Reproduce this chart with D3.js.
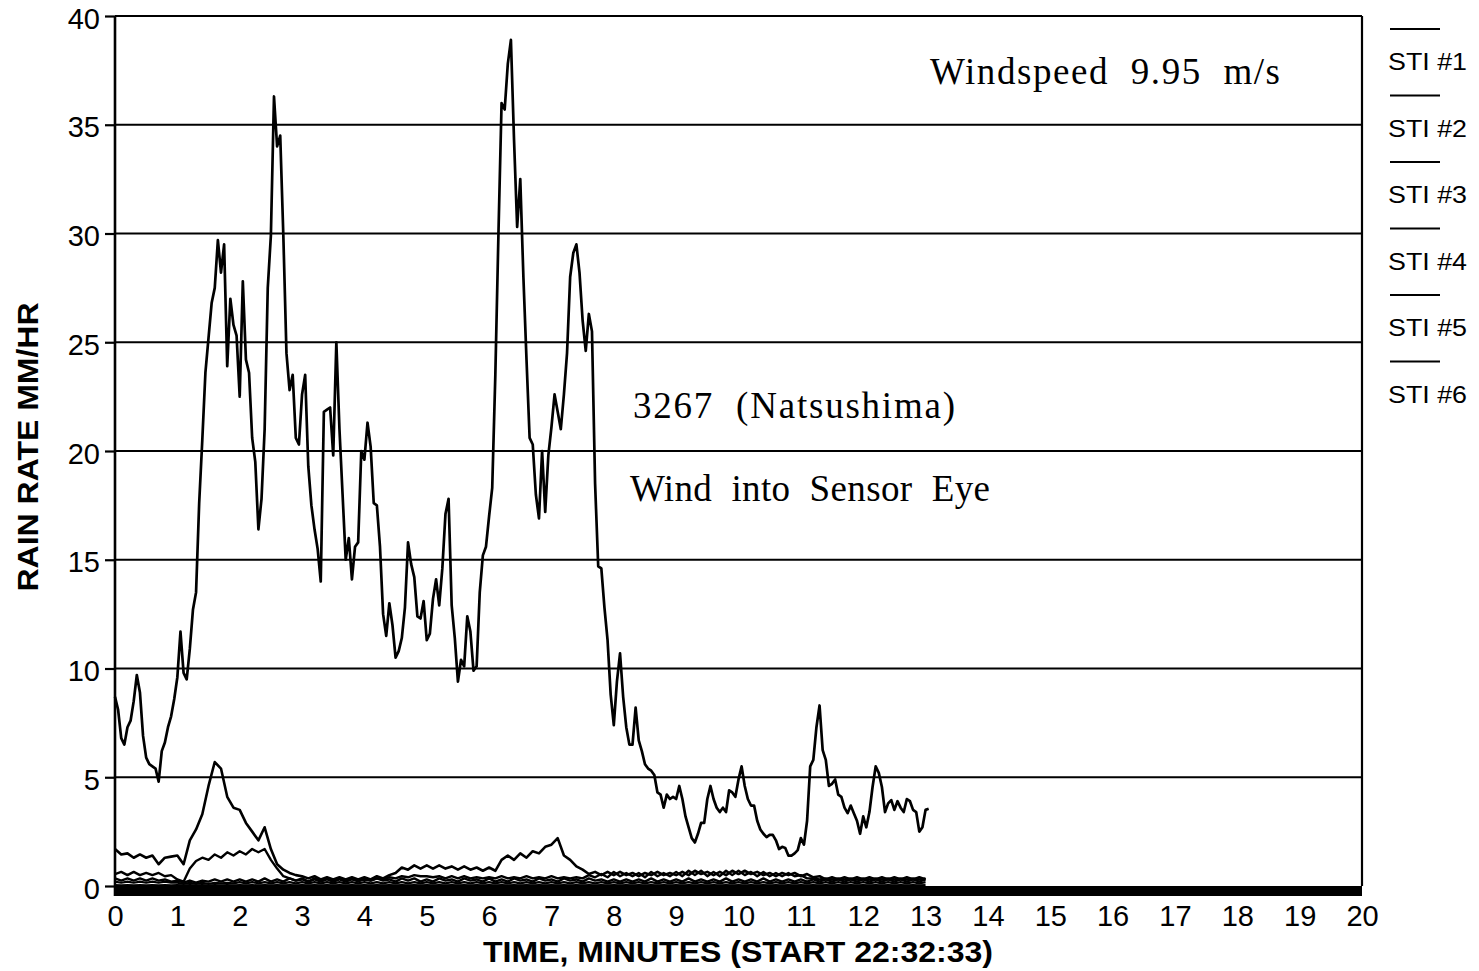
<!DOCTYPE html>
<html>
<head>
<meta charset="utf-8">
<script src="https://cdn.jsdelivr.net/npm/d3@7"></script>
<style>
  body { margin: 0; background: #fff; }
  svg { display: block; }
</style>
</head>
<body>
<svg id="chart" width="1479" height="971"></svg>
<script>
// ---- data ----
// main trace, one value every 0.05 min
var mainStep = 0.05;
var mainRate = [
  8.7,8.1,6.8,6.5,7.3,7.6,8.5,9.7,8.9,6.9,5.9,5.6,5.5,5.4,4.8,6.2,6.6,7.3,7.8,8.6,
  9.6,11.7,9.8,9.5,10.9,12.7,13.5,17.6,20.5,23.6,25.2,26.8,27.5,29.7,28.2,29.5,23.9,27.0,25.8,25.3,
  22.5,27.8,24.2,23.6,20.6,19.5,16.4,17.8,21.0,27.5,29.9,36.3,34.0,34.5,29.9,24.5,22.8,23.5,20.6,20.3,
  22.6,23.5,19.3,17.5,16.4,15.5,14.0,21.8,21.9,22.0,19.8,25.0,21.0,18.0,15.0,16.0,14.1,15.6,15.8,20.0,
  19.6,21.3,20.2,17.6,17.5,15.6,12.5,11.5,13.0,12.0,10.5,10.8,11.4,12.8,15.8,14.8,14.2,12.4,12.3,13.1,
  11.3,11.6,13.2,14.1,12.9,14.6,17.1,17.8,12.9,11.4,9.4,10.4,10.1,12.4,11.7,9.9,10.1,13.5,15.2,15.6,
  17.0,18.3,23.5,30.0,36.0,35.7,37.8,38.9,34.3,30.3,32.5,28.0,24.2,20.6,20.3,18.0,16.9,20.0,17.2,19.8,
  21.1,22.6,21.8,21.0,22.6,24.5,28.0,29.1,29.5,28.2,26.0,24.6,26.3,25.5,18.5,14.7,14.6,12.8,11.3,8.8,
  7.4,9.4,10.7,8.7,7.3,6.5,6.5,8.2,6.7,6.2,5.6,5.4,5.3,5.1,4.3,4.2,3.6,4.2,4.0,4.1,
  4.0,4.6,4.0,3.2,2.7,2.2,2.0,2.4,2.9,2.9,4.0,4.6,4.0,3.6,3.4,3.6,3.4,4.4,4.3,4.1,
  4.9,5.5,4.6,4.0,3.7,3.7,3.0,2.6,2.4,2.25,2.35,2.35,2.1,1.7,1.8,1.75,1.4,1.4,1.5,1.65,
  2.2,1.9,3.0,5.5,5.8,7.3,8.3,6.25,5.8,4.6,4.7,4.9,4.2,4.1,3.6,3.35,3.7,3.35,3.0,2.4,
  3.2,2.7,3.4,4.55,5.5,5.2,4.55,3.4,3.8,3.95,3.5,3.9,3.6,3.4,4.0,3.9,3.5,3.4,2.5,2.7,
  3.5,3.55
];

// the low traces, one value every 0.1 min
var lowStep = 0.1;
var sti2 = [
  1.7,1.45,1.5,1.3,1.45,1.3,1.4,1.0,1.3,1.35,
  1.4,1.0,2.1,2.6,3.3,4.6,5.7,5.4,4.1,3.6,
  3.5,2.9,2.5,2.1,2.7,1.7,1.0,0.75,0.6,0.5,
  0.45,0.35,0.45,0.3,0.4,0.3,0.4,0.3,0.4,0.3,
  0.4,0.3,0.45,0.35,0.5,0.6,0.85,0.75,0.95,0.8,
  0.95,0.8,0.95,0.8,0.9,0.75,0.9,0.75,0.85,0.7,
  0.85,0.7,1.2,1.4,1.2,1.5,1.3,1.6,1.5,1.8,
  1.9,2.2,1.4,1.2,0.9,0.75,0.55,0.65,0.5,0.65,
  0.5,0.65,0.5,0.6,0.45,0.6,0.5,0.65,0.5,0.6,
  0.5,0.65,0.5,0.7,0.55,0.65,0.5,0.65,0.5,0.7,
  0.55,0.7,0.55,0.65,0.5,0.6,0.45,0.6,0.5,0.6,
  0.45,0.55,0.4,0.45,0.3,0.4,0.3,0.4,0.3,0.4,
  0.3,0.4,0.3,0.4,0.3,0.4,0.3,0.4,0.3,0.4,
  0.3
];
var sti3 = [
  0.55,0.65,0.5,0.65,0.5,0.6,0.5,0.6,0.45,0.5,
  0.3,0.2,0.8,1.15,1.3,1.2,1.45,1.3,1.55,1.4,
  1.6,1.45,1.7,1.55,1.7,1.2,0.8,0.45,0.35,0.25,
  0.3,0.2,0.3,0.2,0.3,0.2,0.3,0.2,0.3,0.25,
  0.3,0.25,0.35,0.3,0.4,0.35,0.45,0.4,0.5,0.45,
  0.45,0.4,0.45,0.35,0.45,0.35,0.45,0.35,0.4,0.35,
  0.4,0.35,0.45,0.35,0.4,0.35,0.45,0.35,0.4,0.35,
  0.45,0.35,0.4,0.35,0.4,0.35,0.5,0.4,0.55,0.4,
  0.65,0.45,0.6,0.45,0.6,0.4,0.65,0.45,0.6,0.45,
  0.65,0.45,0.7,0.5,0.7,0.45,0.65,0.45,0.7,0.5,
  0.7,0.5,0.65,0.45,0.65,0.45,0.6,0.45,0.6,0.45,
  0.5,0.35,0.35,0.3,0.35,0.3,0.35,0.3,0.35,0.3,
  0.35,0.3,0.35,0.3,0.35,0.3,0.35,0.3,0.35,0.3,
  0.35
];
var sti4 = [
  0.35,0.25,0.35,0.25,0.35,0.25,0.35,0.25,0.3,0.2,
  0.25,0.15,0.25,0.15,0.25,0.2,0.3,0.2,0.3,0.2,
  0.3,0.2,0.3,0.2,0.35,0.2,0.3,0.2,0.35,0.25,
  0.35,0.2,0.35,0.25,0.35,0.2,0.35,0.25,0.35,0.2,
  0.35,0.25,0.35,0.25,0.3,0.2,0.35,0.25,0.35,0.2,
  0.3,0.2,0.35,0.25,0.3,0.2,0.35,0.25,0.3,0.2,
  0.35,0.2,0.3,0.2,0.35,0.25,0.3,0.2,0.35,0.25,
  0.3,0.2,0.35,0.25,0.3,0.2,0.35,0.25,0.3,0.2,
  0.3,0.2,0.3,0.2,0.3,0.2,0.35,0.2,0.3,0.2,
  0.3,0.2,0.35,0.2,0.3,0.2,0.3,0.2,0.35,0.2,
  0.3,0.2,0.3,0.2,0.35,0.2,0.3,0.2,0.3,0.2,
  0.3,0.2,0.3,0.2,0.3,0.2,0.3,0.2,0.3,0.2,
  0.3,0.2,0.3,0.2,0.3,0.2,0.3,0.2,0.3,0.2,
  0.3
];
var sti5 = [
  0.2,0.15,0.2,0.15,0.2,0.15,0.2,0.15,0.2,0.15,
  0.15,0.1,0.15,0.1,0.15,0.1,0.15,0.12,0.15,0.12,
  0.18,0.12,0.18,0.12,0.18,0.12,0.18,0.12,0.18,0.12,
  0.18,0.12,0.18,0.12,0.18,0.12,0.18,0.12,0.18,0.12,
  0.18,0.12,0.18,0.12,0.18,0.12,0.18,0.12,0.18,0.12,
  0.18,0.12,0.18,0.12,0.18,0.12,0.18,0.12,0.18,0.12,
  0.18,0.12,0.18,0.12,0.18,0.12,0.18,0.12,0.18,0.12,
  0.18,0.12,0.18,0.12,0.18,0.12,0.18,0.12,0.18,0.12,
  0.18,0.12,0.18,0.12,0.18,0.12,0.18,0.12,0.18,0.12,
  0.18,0.12,0.18,0.12,0.18,0.12,0.18,0.12,0.18,0.12,
  0.18,0.12,0.18,0.12,0.18,0.12,0.18,0.12,0.18,0.12,
  0.18,0.12,0.18,0.12,0.18,0.12,0.18,0.12,0.18,0.12,
  0.18,0.12,0.18,0.12,0.18,0.12,0.18,0.12,0.18,0.12,
  0.18
];
var sti6 = [
  0.05,0.03,0.05,0.03,0.05,0.03,0.05,0.03,0.05,0.03,
  0.05,0.03,0.05,0.03,0.05,0.03,0.05,0.03,0.05,0.03,
  0.05,0.03,0.05,0.03,0.05,0.03,0.05,0.03,0.05,0.03,
  0.05,0.03,0.05,0.03,0.05,0.03,0.05,0.03,0.05,0.03,
  0.05,0.03,0.05,0.03,0.05,0.03,0.05,0.03,0.05,0.03,
  0.05,0.03,0.05,0.03,0.05,0.03,0.05,0.03,0.05,0.03,
  0.05,0.03,0.05,0.03,0.05,0.03,0.05,0.03,0.05,0.03,
  0.05,0.03,0.05,0.03,0.05,0.03,0.05,0.03,0.05,0.03,
  0.05,0.03,0.05,0.03,0.05,0.03,0.05,0.03,0.05,0.03,
  0.05,0.03,0.05,0.03,0.05,0.03,0.05,0.03,0.05,0.03,
  0.05,0.03,0.05,0.03,0.05,0.03,0.05,0.03,0.05,0.03,
  0.05,0.03,0.05,0.03,0.05,0.03,0.05,0.03,0.05,0.03,
  0.05,0.03,0.05,0.03,0.05,0.03,0.05,0.03,0.05,0.03,
  0.05
];

var legendNames = ["STI #1", "STI #2", "STI #3", "STI #4", "STI #5", "STI #6"];
var xTickValues = [0,1,2,3,4,5,6,7,8,9,10,11,12,13,14,15,16,17,18,19,20];
var yTickValues = [0,5,10,15,20,25,30,35,40];
var notes = ["Windspeed  9.95  m/s", "3267  (Natsushima)", "Wind  into  Sensor  Eye"];
var xTitle = "TIME, MINUTES (START 22:32:33)";
var yTitle = "RAIN RATE MM/HR";

// ---- drawing ----
var sans = "'Liberation Sans', Arial, Helvetica, sans-serif";
var serif = "'Liberation Serif', 'Times New Roman', serif";

var svg = d3.select("#chart");
var plotLeft = 115, plotRight = 1362, plotTop = 16, plotBottom = 886;

var x = d3.scaleLinear().domain([0, 20]).range([plotLeft, plotRight]);
var y = d3.scaleLinear().domain([0, 40]).range([plotBottom, plotTop]);

// horizontal grid lines
svg.append("g")
  .selectAll("line")
  .data(yTickValues.filter(function (d) { return d > 0; }))
  .join("line")
  .attr("x1", plotLeft)
  .attr("x2", plotRight)
  .attr("y1", function (d) { return y(d); })
  .attr("y2", function (d) { return y(d); })
  .attr("stroke", "#000")
  .attr("stroke-width", 2.2);

// right frame
svg.append("line")
  .attr("x1", plotRight).attr("x2", plotRight)
  .attr("y1", plotTop).attr("y2", y(0))
  .attr("stroke", "#000").attr("stroke-width", 2.2);

// thick bar along the time axis
svg.append("rect")
  .attr("x", plotLeft)
  .attr("y", y(0))
  .attr("width", plotRight - plotLeft)
  .attr("height", 10)
  .attr("fill", "#000");

// y axis
var yAxis = svg.append("g")
  .attr("transform", "translate(" + plotLeft + ",0)")
  .call(d3.axisLeft(y).tickValues(yTickValues).tickSize(10).tickPadding(5));
yAxis.select(".domain").attr("stroke-width", 2.6).attr("d", "M0," + plotTop + "V" + (y(0) + 10));
yAxis.selectAll(".tick line").attr("stroke-width", 2.2);
yAxis.selectAll("text")
  .attr("dy", "0.42em")
  .style("font-family", sans)
  .style("font-size", "29px")
  .attr("fill", "#000");

// x axis labels
var xAxis = svg.append("g")
  .attr("transform", "translate(0," + (y(0) + 10) + ")")
  .call(d3.axisBottom(x).tickValues(xTickValues).tickSize(0).tickPadding(9).tickFormat(d3.format("d")));
xAxis.select(".domain").remove();
xAxis.selectAll("text")
  .style("font-family", sans)
  .style("font-size", "29px")
  .attr("fill", "#000");

// axis titles
svg.append("text")
  .attr("x", 738)
  .attr("y", 962)
  .attr("text-anchor", "middle")
  .attr("textLength", 510)
  .attr("lengthAdjust", "spacingAndGlyphs")
  .style("font-family", sans)
  .style("font-weight", "bold")
  .style("font-size", "29px")
  .text(xTitle);

svg.append("text")
  .attr("transform", "translate(38,447) rotate(-90)")
  .attr("text-anchor", "middle")
  .attr("textLength", 289)
  .attr("lengthAdjust", "spacingAndGlyphs")
  .style("font-family", sans)
  .style("font-weight", "bold")
  .style("font-size", "29px")
  .text(yTitle);

// traces
function trace(values, step, width) {
  var line = d3.line()
    .x(function (d, i) { return x(i * step); })
    .y(function (d) { return y(d); });
  svg.append("path")
    .datum(values)
    .attr("d", line)
    .attr("fill", "none")
    .attr("stroke", "#000")
    .attr("stroke-width", width)
    .attr("stroke-linejoin", "round");
}
trace(sti6, lowStep, 2);
trace(sti5, lowStep, 2.2);
trace(sti4, lowStep, 2.4);
trace(sti3, lowStep, 2.4);
trace(sti2, lowStep, 2.6);
trace(mainRate, mainStep, 2.7);

// notes inside the plot
var notePos = [[930, 84], [633, 418], [630, 501]];
var noteWidth = [350, 322, 360];
svg.append("g")
  .selectAll("text")
  .data(notes)
  .join("text")
  .attr("x", function (d, i) { return notePos[i][0]; })
  .attr("y", function (d, i) { return notePos[i][1]; })
  .attr("textLength", function (d, i) { return noteWidth[i]; })
  .attr("lengthAdjust", "spacing")
  .attr("xml:space", "preserve")
  .style("white-space", "pre")
  .style("font-family", serif)
  .style("font-size", "37px")
  .text(function (d) { return d; });

// legend on the right
var legendItemGap = 66.5;
var legend = svg.append("g").attr("transform", "translate(1388,29)");
legend.selectAll("line")
  .data(legendNames)
  .join("line")
  .attr("x1", 2)
  .attr("x2", 52)
  .attr("y1", function (d, i) { return i * legendItemGap; })
  .attr("y2", function (d, i) { return i * legendItemGap; })
  .attr("stroke", "#000")
  .attr("stroke-width", 1.8);
legend.selectAll("text")
  .data(legendNames)
  .join("text")
  .attr("x", 0)
  .attr("y", function (d, i) { return i * legendItemGap + 41; })
  .attr("textLength", 79)
  .attr("lengthAdjust", "spacingAndGlyphs")
  .style("font-family", sans)
  .style("font-size", "24px")
  .text(function (d) { return d; });
</script>
</body>
</html>
